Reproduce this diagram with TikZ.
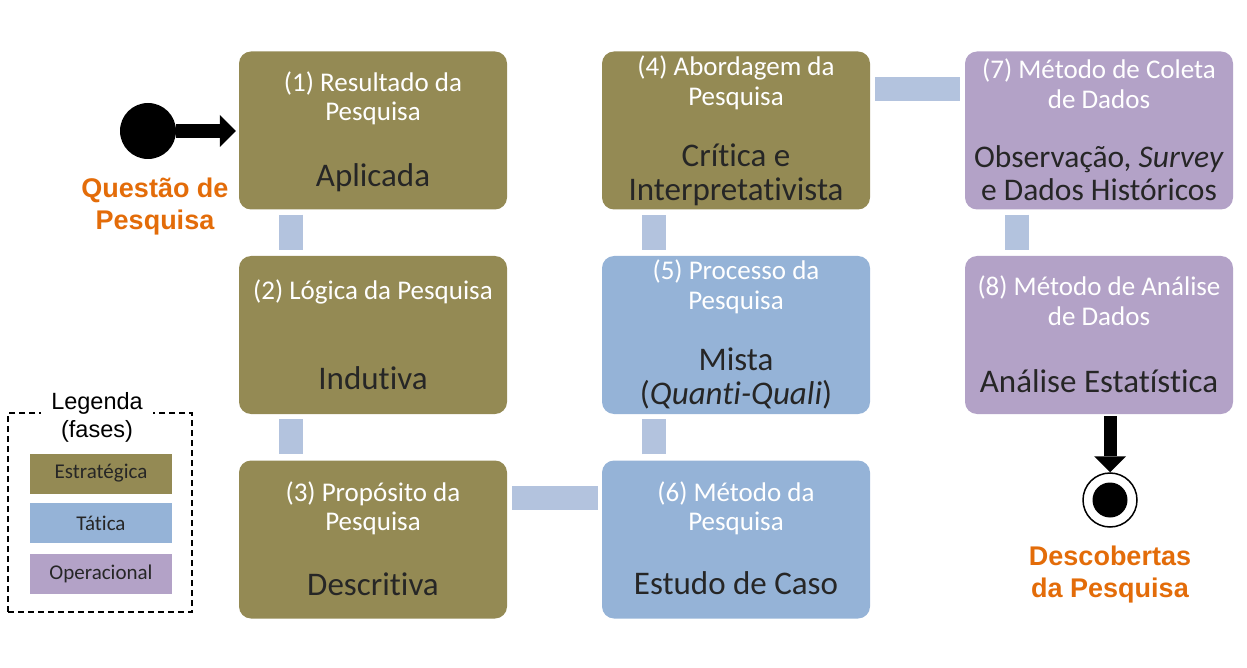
\documentclass[tikz,border=0pt]{standalone}
\usepackage{fontspec}
\setmainfont{Carlito}[Ligatures=NoCommon]
\newfontfamily\arialfont{Liberation Sans}
\usetikzlibrary{arrows.meta}

\definecolor{estrat}{HTML}{948A54}
\definecolor{tatica}{HTML}{95B3D7}
\definecolor{operac}{HTML}{B3A2C7}
\definecolor{ligcor}{HTML}{B3C3DE}
\definecolor{laranja}{HTML}{E36C09}
\definecolor{texto}{HTML}{262626}

\begin{document}
\begin{tikzpicture}[
      x=1pt, y=-1pt,
      fase/.style={rounded corners=12pt, minimum width=268pt, minimum height=158pt, inner sep=0pt},
      titulo/.style={text=white, align=center, font=\fontsize{27}{29.5}\selectfont},
      corpo/.style={text=texto, align=center, font=\fontsize{33}{34}\selectfont},
      barra/.style={draw=ligcor, line width=24pt},
      seta/.style={line width=14pt, -{Triangle[width=32pt,length=16pt,line width=0pt]}},
      destaque/.style={text=laranja, align=center, font=\arialfont\bfseries\fontsize{27}{32}\selectfont},
      caixaleg/.style={minimum width=142pt, minimum height=40pt, inner sep=0pt, text=texto, font=\fontsize{21}{24}\selectfont}
    ]
    \useasboundingbox (0,0) rectangle (1247,668);

    % fases
    \node (b1) [fase, fill=estrat] at (373,130.5) {};
    \node (b2) [fase, fill=estrat] at (373,335) {};
    \node (b3) [fase, fill=estrat] at (373,539.5) {};
    \node (b4) [fase, fill=estrat] at (736,130.5) {};
    \node (b5) [fase, fill=tatica] at (736,335) {};
    \node (b6) [fase, fill=tatica] at (736,539.5) {};
    \node (b7) [fase, fill=operac] at (1099,130.5) {};
    \node (b8) [fase, fill=operac] at (1099,335) {};

    % ligacoes
    \draw[barra] ([xshift=-82pt,yshift=-5pt]b1.south) -- ([xshift=-82pt,yshift=6pt]b2.north);
    \draw[barra] ([xshift=-82pt,yshift=-5pt]b2.south) -- ([xshift=-82pt,yshift=6pt]b3.north);
    \draw[barra] ([xshift=5pt,yshift=41.5pt]b3.east) -- ([xshift=-4pt,yshift=41.5pt]b6.west);
    \draw[barra] ([xshift=-82pt,yshift=6pt]b6.north) -- ([xshift=-82pt,yshift=-5pt]b5.south);
    \draw[barra] ([xshift=-82pt,yshift=6pt]b5.north) -- ([xshift=-82pt,yshift=-5pt]b4.south);
    \draw[barra] ([xshift=5pt,yshift=41.5pt]b4.east) -- ([xshift=-5pt,yshift=41.5pt]b7.west);
    \draw[barra] ([xshift=-82pt,yshift=-5pt]b7.south) -- ([xshift=-82pt,yshift=6pt]b8.north);

    % textos
    \node (b1t) [titulo] at (373,98.5) {(1) Resultado da\\Pesquisa};
    \node (b1c) [corpo] at (373,178) {Aplicada};
    \node (b2t) [titulo] at (373,292) {(2) Lógica da Pesquisa};
    \node (b2c) [corpo] at (373,378) {Indutiva};
    \node (b3t) [titulo] at (373,508.5) {(3) Propósito da\\Pesquisa};
    \node (b3c) [corpo] at (373,584) {Descritiva};
    \node (b4t) [titulo] at (736,83) {(4) Abordagem da\\Pesquisa};
    \node (b4c) [corpo] at (736,174.5) {Crítica e\\Interpretativista};
    \node (b5t) [titulo] at (736,287) {(5) Processo da\\Pesquisa};
    \node (b5c) [corpo] at (736,378) {Mista\\(\textit{Quanti-Quali})};
    \node (b6t) [titulo] at (736,508.5) {(6) Método da\\Pesquisa};
    \node (b6c) [corpo] at (736,583) {Estudo de Caso};
    \node (b7t) [titulo] at (1099,83.5) {(7) Método de Coleta\\de Dados};
    \node (b7c) [corpo, font=\fontsize{31.5}{33}\selectfont] at (1099,173.5) {Observação, \textit{Survey}\\e Dados Históricos};
    \node (b8t) [titulo] at (1099,300.5) {(8) Método de Análise\\de Dados};
    \node (b8c) [corpo] at (1099,381) {Análise Estatística};

    % inicio e fim
    \node (inicio) [circle, fill=black, minimum size=56pt, inner sep=0pt] at (148,131) {};
    \draw[seta] (inicio) -- ([xshift=-3pt]inicio -| b1.west);
    \node (questao) [destaque] at (155,207) {Questão de\\Pesquisa};

    \node (fim) [circle, draw=black, line width=1.5pt, minimum size=54pt, inner sep=0pt] at (1110,500) {};
    \node (fimc) [circle, fill=black, minimum size=35pt, inner sep=0pt] at (fim) {};
    \draw[seta, line width=13pt] ([yshift=-2pt]b8.south -| fim) -- (fim.north);
    \node (descobertas) [destaque] at (1110,575) {Descobertas\\da Pesquisa};

    % legenda
    \node (legenda) [draw=black, line width=1.5pt, dash pattern=on 6pt off 4pt, minimum width=184pt, minimum height=199pt, inner sep=0pt] at (100,512.5) {};
    \node (legt) [fill=white, align=center, inner xsep=10pt, inner ysep=2pt, font=\arialfont\fontsize{23.5}{28}\selectfont] at (97,417) {Legenda\\(fases)};
    \node (leg1) [caixaleg, fill=estrat] at (101,473.5) {Estratégica};
    \node (leg2) [caixaleg, fill=tatica] at (101,523) {Tática};
    \node (leg3) [caixaleg, fill=operac] at (101,573.5) {Operacional};
  \end{tikzpicture}
\end{document}
